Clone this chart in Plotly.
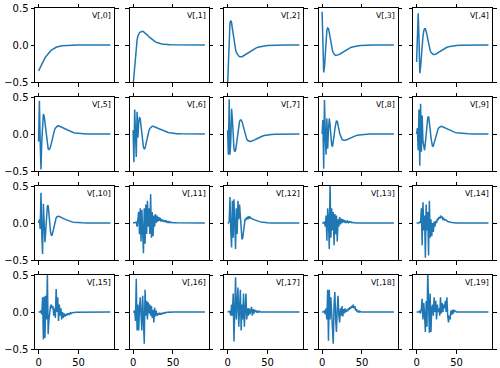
import plotly.graph_objects as go
from plotly.subplots import make_subplots

# sample positions (dense where the curves move, coarse in the flat tails)
x_smooth = list(range(0, 30)) + list(range(30, 50, 2)) + list(range(50, 90, 5)) + [90]
x_noisy = list(range(0, 50)) + list(range(50, 90, 5)) + [90]

v0 = [-0.35, -0.325, -0.3, -0.278, -0.255, -0.235, -0.215, -0.195, -0.175, -0.158,
      -0.142, -0.128, -0.114, -0.1, -0.09, -0.08, -0.07, -0.062, -0.054, -0.047,
      -0.041, -0.036, -0.031, -0.027, -0.023, -0.02, -0.018, -0.015, -0.013, -0.011,
      -0.01, -0.008, -0.006, -0.004, -0.003, -0.002, -0.002, -0.001, -0.001, -0.001,
      0, 0, 0, 0, 0, 0, 0, 0, 0]
v1 = [-0.55, -0.4, -0.25, -0.1, 0.0, 0.07, 0.12, 0.15, 0.165, 0.175,
      0.182, 0.185, 0.185, 0.18, 0.172, 0.163, 0.153, 0.143, 0.132, 0.121,
      0.11, 0.1, 0.09, 0.08, 0.071, 0.063, 0.056, 0.049, 0.043, 0.038,
      0.033, 0.026, 0.02, 0.015, 0.011, 0.008, 0.006, 0.004, 0.003, 0.002,
      0.002, 0.001, 0, 0, 0, 0, 0, 0, 0]
v2 = [-0.55, -0.2, 0.15, 0.3, 0.33, 0.3, 0.22, 0.13, 0.05, -0.01,
      -0.06, -0.1, -0.125, -0.14, -0.15, -0.158, -0.16, -0.16, -0.158, -0.152,
      -0.145, -0.138, -0.13, -0.122, -0.114, -0.106, -0.098, -0.09, -0.083, -0.076,
      -0.069, -0.057, -0.047, -0.038, -0.031, -0.025, -0.02, -0.016, -0.012, -0.01,
      -0.008, -0.004, -0.002, -0.001, 0, 0, 0, 0, 0]
v3 = [0.45, 0.05, -0.37, -0.3, -0.1, 0.08, 0.2, 0.23, 0.22, 0.17,
      0.1, 0.03, -0.03, -0.075, -0.105, -0.125, -0.135, -0.14, -0.14, -0.14,
      -0.135, -0.13, -0.125, -0.118, -0.11, -0.102, -0.095, -0.087, -0.08, -0.072,
      -0.065, -0.052, -0.042, -0.033, -0.026, -0.02, -0.016, -0.012, -0.009, -0.007,
      -0.005, -0.002, -0.001, 0, 0, 0, 0, 0, 0]
v4 = [-0.23, 0.1, 0.43, 0.1, -0.38, -0.3, -0.12, 0.02, 0.12, 0.19,
      0.22, 0.22, 0.19, 0.14, 0.08, 0.02, -0.03, -0.07, -0.1, -0.115,
      -0.125, -0.13, -0.13, -0.128, -0.124, -0.118, -0.11, -0.103, -0.095, -0.088,
      -0.08, -0.065, -0.052, -0.04, -0.031, -0.024, -0.019, -0.014, -0.011, -0.008,
      -0.006, -0.003, -0.001, 0, 0, 0, 0, 0, 0]
v5 = [-0.1, 0.45, -0.1, -0.48, -0.1, 0.2, 0.27, 0.24, 0.15, 0.04,
      -0.07, -0.15, -0.2, -0.21, -0.2, -0.17, -0.12, -0.07, -0.02, 0.02,
      0.055, 0.08, 0.095, 0.105, 0.11, 0.11, 0.105, 0.1, 0.095, 0.09,
      0.082, 0.07, 0.058, 0.047, 0.037, 0.029, 0.022, 0.017, 0.013, 0.01,
      0.007, 0.003, 0.001, 0, 0, 0, 0, 0, 0]
v6 = [0.05, -0.38, 0.33, -0.1, -0.31, 0.3, -0.05, 0.15, 0.23, 0.2,
      0.1, -0.02, -0.12, -0.18, -0.2, -0.19, -0.14, -0.08, -0.03, 0.02,
      0.05, 0.075, 0.09, 0.1, 0.105, 0.105, 0.1, 0.097, 0.093, 0.088,
      0.083, 0.072, 0.061, 0.05, 0.041, 0.033, 0.026, 0.02, 0.016, 0.012,
      0.009, 0.004, 0.002, 0.001, 0, 0, 0, 0, 0]
v7 = [0.05, -0.28, 0.47, -0.28, -0.1, 0.34, 0.2, -0.05, -0.2, -0.24,
      -0.22, -0.15, -0.05, 0.05, 0.12, 0.17, 0.19, 0.19, 0.17, 0.13,
      0.08, 0.03, -0.01, -0.045, -0.07, -0.085, -0.093, -0.098, -0.1, -0.1,
      -0.098, -0.09, -0.08, -0.068, -0.056, -0.045, -0.036, -0.028, -0.021, -0.016,
      -0.012, -0.006, -0.003, -0.001, 0, 0, 0, 0, 0]
v8 = [0.0, 0.19, -0.47, 0.46, 0.0, -0.28, 0.21, -0.2, 0.05, 0.21,
      0.12, -0.05, -0.15, -0.17, -0.12, -0.03, 0.07, 0.15, 0.18, 0.17,
      0.13, 0.07, 0.01, -0.03, -0.06, -0.075, -0.082, -0.085, -0.085, -0.083,
      -0.08, -0.07, -0.058, -0.046, -0.036, -0.027, -0.021, -0.016, -0.012, -0.009,
      -0.006, -0.003, -0.001, 0, 0, 0, 0, 0, 0]
v9 = [0.0, 0.08, -0.22, 0.33, -0.43, 0.41, -0.24, 0.25, -0.1, -0.2,
      -0.22, -0.12, 0.02, 0.15, 0.22, 0.24, 0.18, 0.07, -0.05, -0.13,
      -0.17, -0.16, -0.12, -0.07, -0.03, 0.01, 0.045, 0.07, 0.085, 0.095,
      0.1, 0.1, 0.09, 0.078, 0.066, 0.054, 0.044, 0.035, 0.028, 0.022,
      0.017, 0.009, 0.004, 0.002, 0.001, 0, 0, 0, 0]
v10 = [0.0, 0.05, -0.08, 0.41, -0.15, -0.42, 0.26, 0.0, -0.26, -0.1,
       0.12, 0.23, 0.24, 0.15, 0.0, -0.12, -0.17, -0.16, -0.11, -0.05,
       0.0, 0.04, 0.07, 0.085, 0.09, 0.09, 0.088, 0.084, 0.08, 0.074,
       0.068, 0.056, 0.045, 0.035, 0.027, 0.02, 0.015, 0.011, 0.008, 0.006,
       0.004, 0.002, 0.001, 0, 0, 0, 0, 0, 0]

v11 = [0, 0, 0, 0, 0.01, -0.05, 0.05, 0.15, -0.15, 0.2,
       -0.25, 0.18, -0.1, -0.41, 0.2, -0.28, 0.25, -0.15, 0.3, -0.05,
       0.2, -0.15, 0.39, -0.2, 0.15, -0.18, 0.1, -0.05, 0.12, 0.0,
       0.1, 0.02, 0.08, 0.03, 0.07, 0.02, 0.05, 0.02, 0.04, 0.015,
       0.035, 0.01, 0.025, 0.01, 0.02, 0.005, 0.015, 0.005, 0.01, 0.005,
       0.005, 0.002, 0, 0, 0, 0, 0, 0, 0]
v12 = [0, 0, 0.02, 0.35, -0.1, -0.33, 0.3, -0.2, 0.32, -0.1,
       -0.35, 0.2, -0.15, 0.3, 0.05, 0.25, 0.05, -0.15, -0.22, -0.2,
       -0.1, 0.0, 0.06, 0.04, 0.08, 0.05, 0.09, 0.06, 0.08, 0.07,
       0.06, 0.055, 0.05, 0.045, 0.04, 0.035, 0.03, 0.027, 0.024, 0.021,
       0.018, 0.015, 0.013, 0.011, 0.009, 0.007, 0.006, 0.005, 0.004, 0.003,
       0.002, 0.001, 0, 0, 0, 0, 0, 0, 0]
v13 = [0, 0, 0, 0.02, -0.05, 0.1, -0.24, 0.2, 0.05, -0.35,
       0.55, -0.2, 0.2, -0.1, 0.15, -0.3, 0.12, -0.15, 0.1, -0.25,
       0.05, -0.05, 0.08, -0.02, 0.06, 0.0, 0.05, 0.01, 0.04, 0.0,
       0.03, 0.01, 0.025, 0.005, 0.02, 0.01, 0.015, 0.005, 0.01, 0.003,
       0.006, 0.002, 0.004, 0.001, 0.002, 0, 0, 0, 0, 0,
       0, 0, 0, 0, 0, 0, 0, 0, 0]
v14 = [0, 0, 0, 0, 0.02, 0.0, 0.2, -0.3, 0.28, -0.1,
       0.1, -0.47, 0.25, -0.1, 0.15, -0.44, 0.3, -0.2, 0.05, -0.18,
       0.0, -0.12, 0.02, -0.05, 0.03, 0.0, 0.06, 0.04, 0.08, 0.06,
       0.1, 0.07, 0.09, 0.05, 0.06, 0.04, 0.045, 0.03, 0.03, 0.02,
       0.02, 0.015, 0.012, 0.01, 0.008, 0.006, 0.005, 0.004, 0.003, 0.002,
       0, 0, 0, 0, 0, 0, 0, 0, 0]
v15 = [0, 0, 0, 0.02, -0.03, 0.2, -0.37, 0.21, -0.35, 0.22,
       -0.1, 0.52, -0.3, -0.1, 0.05, 0.08, 0.1, 0.05, 0.08, -0.05,
       0.05, -0.08, 0.31, 0.0, 0.2, -0.12, 0.1, -0.05, 0.05, -0.1,
       0.0, -0.08, -0.02, -0.06, -0.03, -0.05, -0.02, -0.04, -0.015, -0.03,
       -0.01, -0.02, -0.01, -0.012, -0.006, -0.008, -0.004, -0.004, -0.002, -0.001,
       0, 0, 0, 0, 0, 0, 0, 0, 0]
v16 = [0, 0, 0.02, -0.12, 0.45, -0.25, 0.1, -0.25, 0.05, 0.2,
       -0.05, -0.25, 0.22, -0.1, -0.43, 0.3, -0.05, 0.15, -0.1, 0.13,
       -0.02, 0.1, -0.05, 0.08, -0.08, 0.03, -0.14, 0.06, -0.06, 0.02,
       -0.05, -0.02, -0.04, -0.01, -0.035, -0.02, -0.03, -0.015, -0.02, -0.01,
       -0.015, -0.008, -0.005, -0.008, -0.003, -0.004, 0, -0.002, 0, 0,
       0, 0, 0, 0, 0, 0, 0, 0, 0]
v17 = [0, 0, 0, 0.01, -0.05, 0.1, -0.05, 0.25, -0.4, 0.1,
       0.47, -0.1, 0.2, 0.33, -0.2, 0.1, 0.3, -0.25, 0.1, -0.1,
       0.25, -0.2, 0.1, 0.25, -0.1, 0.05, -0.05, 0.05, -0.03, 0.04,
       0.07, -0.05, 0.04, -0.02, 0.03, 0.0, 0.02, -0.01, 0.015, 0.0,
       0.01, 0, 0.005, 0, 0, 0, 0, 0, 0, 0,
       0, 0, 0, 0, 0, 0, 0, 0, 0]
v18 = [0, 0, 0, 0.02, -0.03, 0.05, -0.1, 0.3, -0.39, 0.3,
       -0.1, 0.2, -0.05, -0.15, -0.43, 0.1, 0.27, -0.1, -0.27, 0.05,
       0.22, -0.05, -0.14, 0.05, -0.05, 0.08, -0.06, 0.04, -0.02, 0.05,
       0.0, 0.03, 0.01, 0.05, 0.03, 0.06, 0.05, 0.08, 0.06, 0.1,
       0.05, 0.08, 0.02, 0.04, 0.0, 0.02, -0.01, 0.01, 0.0, 0.0,
       0, 0, 0, 0, 0, 0, 0, 0, 0]
v19 = [0, 0, 0, 0, 0.02, -0.02, 0.05, 0.18, -0.1, 0.12,
       -0.05, -0.27, 0.15, -0.2, 0.55, -0.1, -0.28, 0.25, -0.27, 0.05,
       0.1, -0.05, 0.2, 0.0, 0.15, -0.1, 0.1, 0.0, 0.05, -0.05,
       0.2, -0.02, 0.12, 0.0, 0.1, 0.05, 0.15, 0.0, 0.2, -0.05,
       -0.14, -0.05, -0.1, 0.02, -0.04, 0.03, -0.02, 0.02, 0.01, 0.0,
       0, 0, 0, 0, 0, 0, 0, 0, 0]

series = [v0, v1, v2, v3, v4, v5, v6, v7, v8, v9,
          v10, v11, v12, v13, v14, v15, v16, v17, v18, v19]
labels = ["V[,%d]" % i for i in range(20)]

W, H = 500, 368
col_left = [35, 129.5, 224, 318.5, 413]
row_top = [8, 97, 186, 275]
pw, ph = 79, 74

fig = make_subplots(rows=4, cols=5)

for i, ys in enumerate(series):
    r, c = i // 5, i % 5
    xs = x_smooth if i <= 10 else x_noisy
    fig.add_trace(go.Scatter(x=xs, y=ys, mode="lines",
                             line=dict(color="#1f77b4", width=1.5),
                             showlegend=False, hoverinfo="skip"),
                  row=r + 1, col=c + 1)
    x0 = col_left[c] / W
    y1 = 1 - row_top[r] / H
    fig.update_xaxes(domain=[x0, x0 + pw / W], range=[-4.5, 94.5],
                     tickvals=[0, 50], showticklabels=(r == 3),
                     row=r + 1, col=c + 1)
    fig.update_yaxes(domain=[y1 - ph / H, y1], range=[-0.5, 0.5],
                     tickvals=[-0.5, 0, 0.5], tickformat=".1f",
                     showticklabels=(c == 0), row=r + 1, col=c + 1)
    fig.add_annotation(text=labels[i], x=0.99, y=0.985,
                       xref="x%s domain" % ("" if i == 0 else i + 1),
                       yref="y%s domain" % ("" if i == 0 else i + 1),
                       xanchor="right", yanchor="top", showarrow=False,
                       font=dict(size=7.8, color="black"))

axis_style = dict(showline=True, linecolor="black", linewidth=1, mirror="ticks",
                  ticks="outside", ticklen=3.5, tickwidth=1, tickcolor="black",
                  showgrid=False, zeroline=False, automargin=False,
                  tickfont=dict(size=10, color="black"))
fig.update_xaxes(**axis_style)
fig.update_yaxes(**axis_style)

fig.update_layout(width=W, height=H, margin=dict(l=0, r=0, t=0, b=0),
                  plot_bgcolor="white", paper_bgcolor="white",
                  font=dict(family="DejaVu Sans", color="black"))

# drop the browser's default body margin so the figure sits at the page corner
fig.write_html("out.html", config={"displayModeBar": False},
               post_script="document.body.style.margin='0';")
